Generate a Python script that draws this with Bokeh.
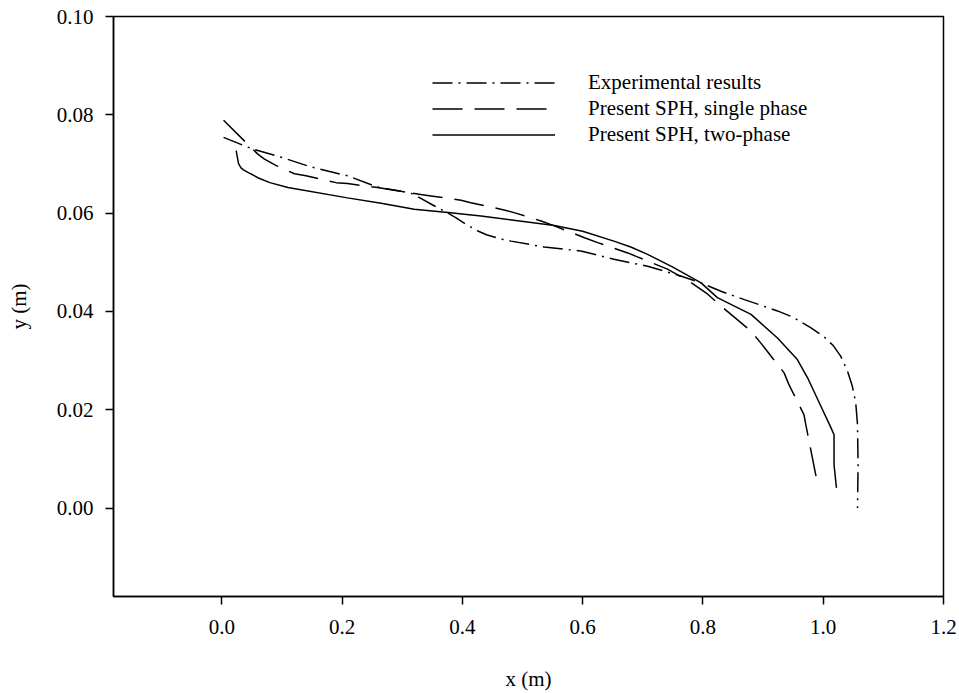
from bokeh.plotting import figure
from bokeh.models import Range1d, FixedTicker, NumeralTickFormatter, Legend, LegendItem
from bokeh.embed import file_html
from bokeh.resources import INLINE

# ---- data ----
exp_x = [0.003, 0.052, 0.093, 0.148, 0.209, 0.259, 0.300, 0.315, 0.325, 0.350, 0.370, 0.389,
         0.405, 0.425, 0.440, 0.465, 0.481, 0.536, 0.597, 0.652, 0.708, 0.763, 0.797, 0.830,
         0.869, 0.924, 0.950, 0.979, 1.000, 1.017, 1.029, 1.040, 1.048, 1.054, 1.057, 1.058, 1.057]
exp_y = [0.0754, 0.0730, 0.0716, 0.0694, 0.0676, 0.0653, 0.0644, 0.0640, 0.0634, 0.0617, 0.0604, 0.0591,
         0.0578, 0.0564, 0.0556, 0.0547, 0.0543, 0.0531, 0.0523, 0.0506, 0.0492, 0.0472, 0.0458, 0.0441,
         0.0424, 0.0401, 0.0388, 0.0367, 0.0350, 0.0330, 0.0309, 0.0280, 0.0250, 0.0215, 0.0170, 0.0088, 0.0000]

single_x = [0.003, 0.049, 0.060, 0.071, 0.090, 0.121, 0.140, 0.190, 0.209, 0.259, 0.279, 0.331,
            0.348, 0.398, 0.414, 0.464, 0.486, 0.531, 0.553, 0.603, 0.625, 0.675, 0.691, 0.741,
            0.775, 0.808, 0.830, 0.880, 0.896, 0.935, 0.943, 0.968, 0.971, 0.988]
single_y = [0.0789, 0.0733, 0.0720, 0.0710, 0.0697, 0.0680, 0.0676, 0.0662, 0.0660, 0.0652, 0.0648, 0.0638,
            0.0635, 0.0626, 0.0621, 0.0608, 0.0601, 0.0584, 0.0574, 0.0550, 0.0540, 0.0519, 0.0511, 0.0486,
            0.0463, 0.0435, 0.0411, 0.0360, 0.0336, 0.0275, 0.0251, 0.0190, 0.0170, 0.0065]

two_x = [0.024, 0.025, 0.028, 0.032, 0.036, 0.045, 0.050, 0.060, 0.080, 0.110, 0.209, 0.265,
         0.320, 0.376, 0.431, 0.553, 0.600, 0.652, 0.680, 0.708, 0.750, 0.797, 0.824, 0.880,
         0.924, 0.957, 0.974, 0.995, 1.013, 1.018, 1.018, 1.022]
two_y = [0.0727, 0.0720, 0.0700, 0.0692, 0.0688, 0.0682, 0.0679, 0.0672, 0.0662, 0.0652, 0.0631, 0.0620,
         0.0608, 0.0601, 0.0594, 0.0575, 0.0563, 0.0543, 0.0531, 0.0516, 0.0490, 0.0458, 0.0428, 0.0394,
         0.0346, 0.0302, 0.0265, 0.0210, 0.0163, 0.0149, 0.0088, 0.0041]

x_ticks = [0.0, 0.2, 0.4, 0.6, 0.8, 1.0, 1.2]
y_ticks = [0.00, 0.02, 0.04, 0.06, 0.08, 0.10]
labels = ["Experimental results", "Present SPH, single phase", "Present SPH, two-phase"]

FONT = "Liberation Serif"

p = figure(width=959, height=693, output_backend="svg", toolbar_location=None,
           x_range=Range1d(-0.18, 1.2), y_range=Range1d(-0.018, 0.10),
           min_border_left=113, min_border_right=16, min_border_top=16, min_border_bottom=97)

p.xgrid.visible = False
p.ygrid.visible = False
p.background_fill_color = "white"
p.border_fill_color = "white"
p.outline_line_color = "black"
p.outline_line_width = 1.5

for ax in (p.xaxis[0], p.yaxis[0]):
    ax.axis_line_width = 1.5
    ax.major_tick_line_width = 1.5
    ax.major_tick_out = 8
    ax.major_tick_in = 0
    ax.minor_tick_out = 0
    ax.minor_tick_in = 0
    ax.major_label_text_font = FONT
    ax.major_label_text_font_size = "21px"
    ax.major_label_text_color = "black"
    ax.axis_label_text_font = FONT
    ax.axis_label_text_font_size = "21px"
    ax.axis_label_text_font_style = "normal"
    ax.axis_label_text_color = "black"

p.xaxis.ticker = FixedTicker(ticks=x_ticks)
p.yaxis.ticker = FixedTicker(ticks=y_ticks)
p.xaxis.formatter = NumeralTickFormatter(format="0.0")
p.yaxis.formatter = NumeralTickFormatter(format="0.00")
p.xaxis.major_label_standoff = 15
p.yaxis.major_label_standoff = 12
p.xaxis.axis_label = "x (m)"
p.yaxis.axis_label = "y (m)"
p.xaxis.axis_label_standoff = 30
p.yaxis.axis_label_standoff = 23

r1 = p.line(exp_x, exp_y, line_color="black", line_width=1.5, line_dash="20 6 2 6")
r2 = p.line(single_x, single_y, line_color="black", line_width=1.5, line_dash="30 12")
r3 = p.line(two_x, two_y, line_color="black", line_width=1.5)

legend = Legend(items=[LegendItem(label=labels[0], renderers=[r1]),
                       LegendItem(label=labels[1], renderers=[r2]),
                       LegendItem(label=labels[2], renderers=[r3])],
                location=(319, 449), glyph_width=123, glyph_height=25, label_height=25,
                spacing=1, padding=0, margin=0, label_standoff=33,
                label_text_font=FONT, label_text_font_size="21px", label_text_color="black",
                label_text_baseline="middle",
                border_line_alpha=0, background_fill_alpha=0)
p.add_layout(legend, "center")

open("out.html", "w").write(file_html(p, INLINE))
